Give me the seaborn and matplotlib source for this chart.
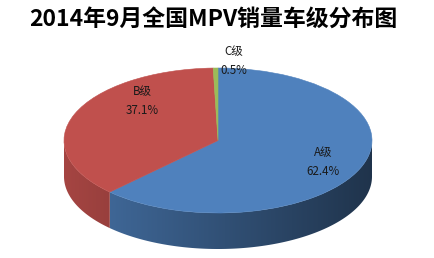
import numpy as np
import matplotlib
matplotlib.use("Agg")
import matplotlib.pyplot as plt
from matplotlib.patches import Polygon
import seaborn as sns

# ---- data ----
categories = ["A级", "B级", "C级"]
shares = [62.4, 37.1, 0.5]
pct_labels = ["62.4%", "37.1%", "0.5%"]
title = "2014年9月全国MPV销量车级分布图"

sns.set_theme(style="white")
plt.rcParams['font.family'] = ['Noto Sans CJK SC', 'DejaVu Sans']

colors = ["#4F81BD", "#C0504D", "#9BBB59"]

W, H = 435, 258
fig = plt.figure(figsize=(W / 100, H / 100), dpi=100)
ax = fig.add_axes([0, 0, 1, 1])

# ellipse geometry in pixels
cx, cy, rx, ry = 218.0, 140.5, 154.0, 72.5
depth = 36.0 / ry


def px(x, y):
    return (x - cx) / rx, (cy - y) / ry


# top face via pie
wedges, _ = ax.pie(shares, colors=colors, startangle=90, counterclock=False,
                   radius=1.0, center=(0, 0),
                   wedgeprops=dict(linewidth=0.4, antialiased=True))
for w, c in zip(wedges, colors):
    w.set_edgecolor(c)
    w.set_zorder(5)

ax.set_aspect('auto')
x0, y1 = px(0, 0)
x1, y0 = px(W, H)
ax.set_xlim(x0, x1)
ax.set_ylim(y0, y1)
ax.axis('off')

# side faces (front half), gradient-shaded left->right
total = sum(shares)
start = 90.0
gx = np.linspace(-1, 1, 400)
for val, col in zip(shares, colors):
    span = 360.0 * val / total
    a_end = start
    a_beg = start - span
    start = a_beg
    base = np.array(matplotlib.colors.to_rgb(col))
    for off in (0.0, 360.0, -360.0):
        lo = max(a_beg + off, 180.0)
        hi = min(a_end + off, 360.0)
        if hi <= lo:
            continue
        ts = np.radians(np.linspace(lo, hi, 200))
        top = np.column_stack([np.cos(ts), np.sin(ts)])
        bot = np.column_stack([np.cos(ts[::-1]), np.sin(ts[::-1]) - depth])
        poly = Polygon(np.vstack([top, bot]), closed=True, facecolor='none',
                       edgecolor='none', transform=ax.transData)
        ax.add_patch(poly)
        f = 0.86 - 0.23 * (gx + 1)
        img = np.clip(base[None, :] * f[:, None], 0, 1)[None, :, :]
        im = ax.imshow(img, extent=(-1, 1, -1 - depth - 0.05, 0.05),
                       aspect='auto', interpolation='bilinear', zorder=2)
        im.set_clip_path(poly)

ax.set_xlim(x0, x1)
ax.set_ylim(y0, y1)

# labels
label_pos = [(323, 162), (142, 101), (234, 61)]
for cat, pl, (lx, ly) in zip(categories, pct_labels, label_pos):
    X, Y = px(lx, ly)
    ax.text(X, Y, f"{cat}\n{pl}", ha='center', va='center', fontsize=8.3,
            color='#1a1a1a', linespacing=1.6, zorder=10)

fig.text(213 / W, 1 - 19 / H, title, ha='center', va='center',
         fontsize=16.5, fontweight='bold', color='black')

fig.savefig("out.png", dpi=100)
